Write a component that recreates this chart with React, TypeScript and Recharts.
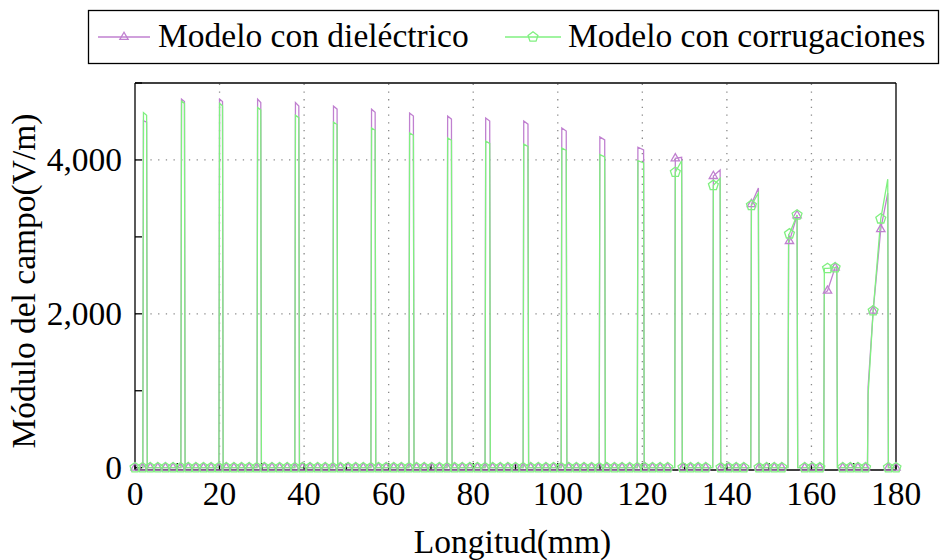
import React from "react";
import { LineChart, Line, XAxis, YAxis, ReferenceLine, Label } from "recharts";

const FONT = "Liberation Serif, DejaVu Serif, Times, serif";
const FS = 33.5;
const PURPLE = "#c080d0";
const GREEN = "#80f080";

// axes
const xTicks = [0, 10, 20, 30, 40, 50, 60, 70, 80, 90, 100, 110, 120, 130, 140, 150, 160, 170, 180];
const xLabels = [0, 20, 40, 60, 80, 100, 120, 140, 160, 180];
const xGrid = [20, 40, 60, 80, 100, 120, 140, 160];
const yTicks = [0, 1000, 2000, 3000, 4000, 5000];
const yLabels = [0, 2000, 4000];
const yGrid = [2000, 4000];

// positions (mm) where the marks are drawn
const markX = [
  0, 1.8, 3.6, 5.4, 7.2, 9, 10.8, 12.6, 14.4, 16.2,
  18, 19.8, 21.6, 23.4, 25.2, 27, 28.8, 30.6, 32.4, 34.2,
  36, 37.8, 39.6, 41.4, 43.2, 45, 46.8, 48.6, 50.4, 52.2,
  54, 55.8, 57.6, 59.4, 61.2, 63, 64.8, 66.6, 68.4, 70.2,
  72, 73.8, 75.6, 77.4, 79.2, 81, 82.8, 84.6, 86.4, 88.2,
  90, 91.8, 93.6, 95.4, 97.2, 99, 100.8, 102.6, 104.4, 106.2,
  108, 109.8, 111.6, 113.4, 115.2, 117, 118.8, 120.6, 122.4, 124.2,
  126, 127.8, 129.6, 131.4, 133.2, 135, 136.8, 138.6, 140.4, 142.2,
  144, 145.8, 147.6, 149.4, 151.2, 153, 154.8, 156.6, 158.4, 160.2,
  162, 163.8, 165.6, 167.4, 169.2, 171, 172.8, 174.6, 176.4, 178.2,
  180,
];
const markDielectric = [
  0, 0, 0, 0, 0, 0, 0, 0, 0, 0,
  0, 0, 0, 0, 0, 0, 0, 0, 0, 0,
  0, 0, 0, 0, 0, 0, 0, 0, 0, 0,
  0, 0, 0, 0, 0, 0, 0, 0, 0, 0,
  0, 0, 0, 0, 0, 0, 0, 0, 0, 0,
  0, 0, 0, 0, 0, 0, 0, 0, 0, 0,
  0, 0, 0, 0, 0, 0, 0, 0, 0, 0,
  0, 4020, 0, 0, 0, 0, 3790, 0, 0, 0,
  0, 3425, 0, 0, 0, 0, 2945, 3280, 0, 0,
  0, 2300, 2600, 0, 0, 0, 0, 2040, 3100, 0,
  0,
];
const markCorrugation = [
  0, 0, 0, 0, 0, 0, 0, 0, 0, 0,
  0, 0, 0, 0, 0, 0, 0, 0, 0, 0,
  0, 0, 0, 0, 0, 0, 0, 0, 0, 0,
  0, 0, 0, 0, 0, 0, 0, 0, 0, 0,
  0, 0, 0, 0, 0, 0, 0, 0, 0, 0,
  0, 0, 0, 0, 0, 0, 0, 0, 0, 0,
  0, 0, 0, 0, 0, 0, 0, 0, 0, 0,
  0, 3840, 0, 0, 0, 0, 3670, 0, 0, 0,
  0, 3410, 0, 0, 0, 0, 3040, 3285, 0, 0,
  0, 2590, 2600, 0, 0, 0, 0, 2040, 3235, 0,
  0,
];

// samples of each field peak (mm), and the field there for both models
const spikeX = [
  [1.85, 2.0, 2.75, 2.9],
  [10.85, 11.0, 11.7, 11.85],
  [19.85, 20.0, 20.7, 20.85],
  [28.85, 29.0, 29.75, 29.9],
  [37.8, 37.95, 38.75, 38.9],
  [46.8, 46.95, 47.8, 47.95],
  [55.8, 55.95, 56.8, 56.95],
  [64.8, 64.95, 65.85, 66.0],
  [73.8, 73.95, 74.85, 75.0],
  [82.8, 82.95, 83.9, 84.05],
  [91.8, 91.95, 92.95, 93.1],
  [100.8, 100.95, 102.0, 102.15],
  [109.8, 109.95, 111.1, 111.25],
  [118.8, 118.95, 120.3, 120.45],
  [127.65, 127.8, 129.3, 129.45],
  [136.65, 136.8, 138.4, 138.55],
  [145.65, 145.8, 147.45, 147.6],
  [154.45, 154.6, 154.8, 156.6, 156.75],
  [162.9, 163.05, 163.8, 165.6, 166.0, 166.15],
  [173.25, 173.4, 174.6, 176.4, 178.05, 178.2],
];
const spikeDielectric = [
  [0, 4510, 4490, 0],
  [0, 4790, 4760, 0],
  [0, 4790, 4760, 0],
  [0, 4790, 4745, 0],
  [0, 4745, 4700, 0],
  [0, 4700, 4660, 0],
  [0, 4660, 4620, 0],
  [0, 4610, 4570, 0],
  [0, 4570, 4530, 0],
  [0, 4545, 4505, 0],
  [0, 4505, 4465, 0],
  [0, 4415, 4375, 0],
  [0, 4300, 4260, 0],
  [0, 4165, 4130, 0],
  [0, 4020, 4035, 0],
  [0, 3790, 3870, 0],
  [0, 3425, 3635, 0],
  [0, 2920, 2945, 3280, 0],
  [0, 2270, 2300, 2600, 2610, 0],
  [0, 1050, 2040, 3100, 3570, 0],
];
const spikeCorrugation = [
  [0, 4615, 4580, 0],
  [0, 4765, 4735, 0],
  [0, 4735, 4705, 0],
  [0, 4680, 4650, 0],
  [0, 4580, 4550, 0],
  [0, 4490, 4460, 0],
  [0, 4415, 4385, 0],
  [0, 4350, 4320, 0],
  [0, 4285, 4255, 0],
  [0, 4245, 4215, 0],
  [0, 4205, 4175, 0],
  [0, 4155, 4125, 0],
  [0, 4070, 4040, 0],
  [0, 3990, 3960, 0],
  [0, 3840, 3990, 0],
  [0, 3670, 3760, 0],
  [0, 3410, 3570, 0],
  [0, 3030, 3040, 3285, 0],
  [0, 2590, 2590, 2600, 2610, 0],
  [0, 950, 2040, 3235, 3750, 0],
];

function lineData(values: number[][]) {
  const pts = [{ x: markX[0], y: 0 }];
  spikeX.forEach((xs, i) => xs.forEach((x, j) => pts.push({ x, y: values[i][j] })));
  pts.push({ x: markX[markX.length - 1], y: 0 });
  return pts;
}

const dielLine = lineData(spikeDielectric);
const corrLine = lineData(spikeCorrugation);
const dielMarks = markX.map((x, i) => ({ x, y: markDielectric[i] }));
const corrMarks = markX.map((x, i) => ({ x, y: markCorrugation[i] }));

function triPoints(cx: number, cy: number, r: number) {
  return [
    [cx, cy - r],
    [cx - 0.866 * r, cy + 0.5 * r],
    [cx + 0.866 * r, cy + 0.5 * r],
  ].map((p) => p.join(",")).join(" ");
}

function pentPoints(cx: number, cy: number, r: number) {
  const out: string[] = [];
  for (let k = 0; k < 5; k++) {
    const a = Math.PI / 2 + (k * 2 * Math.PI) / 5;
    out.push(`${cx + r * Math.cos(a)},${cy - r * Math.sin(a)}`);
  }
  return out.join(" ");
}

const triDot = (p: any) =>
  p.cx == null ? <g key={p.index} /> : (
    <polygon key={p.index} points={triPoints(p.cx, p.cy, 4.8)} fill="none" stroke={PURPLE} strokeWidth={1.3} />
  );

const pentDot = (p: any) =>
  p.cx == null ? <g key={p.index} /> : (
    <polygon key={p.index} points={pentPoints(p.cx, p.cy, 5.2)} fill="none" stroke={GREEN} strokeWidth={1.3} />
  );

const textStyle = { fontFamily: FONT, fontSize: FS };

const XTick = (p: any) => {
  const v = p.payload?.value;
  if (!xLabels.includes(v)) return <g />;
  return (
    <text x={p.x} y={p.y + 35} textAnchor="middle" fontFamily={FONT} style={textStyle} fill="#000">
      {v}
    </text>
  );
};

const YTick = (p: any) => {
  const v = p.payload?.value;
  if (!yLabels.includes(v)) return <g />;
  return (
    <text x={p.x} y={p.y + 11} textAnchor="end" fontFamily={FONT} style={textStyle} fill="#000">
      {v.toLocaleString("en-US")}
    </text>
  );
};

function LegendBox() {
  return (
    <svg width={943} height={70} style={{ position: "absolute", left: 0, top: 0 }}>
      <rect x={88.5} y={10.5} width={850} height={53} fill="#fff" stroke="#000" strokeWidth={1.3} />
      <line x1={98} y1={37} x2={150} y2={37} stroke={PURPLE} strokeWidth={1.3} />
      <polygon points={triPoints(124, 37, 4.8)} fill="none" stroke={PURPLE} strokeWidth={1.3} />
      <text x={158} y={47} fontFamily={FONT} style={textStyle} fill="#000">Modelo con dieléctrico</text>
      <line x1={505} y1={37} x2={561} y2={37} stroke={GREEN} strokeWidth={1.3} />
      <polygon points={pentPoints(533, 37, 5.2)} fill="none" stroke={GREEN} strokeWidth={1.3} />
      <text x={568} y={47} fontFamily={FONT} style={textStyle} fill="#000">Modelo con corrugaciones</text>
    </svg>
  );
}

export default function App() {
  const axisStroke = { stroke: "#000", strokeWidth: 1.3 };
  return (
    <div style={{ position: "absolute", left: 0, top: 0, width: 943, height: 560, background: "#fff", fontFamily: FONT }}>
      <LineChart
        width={943}
        height={560}
        margin={{ top: 82, right: 46, bottom: 10, left: 35 }}
        style={{ fontFamily: FONT }}
      >
        <XAxis
          type="number"
          dataKey="x"
          domain={[0, 180]}
          ticks={xTicks}
          interval={0}
          tickSize={-7}
          tickMargin={7}
          height={80}
          axisLine={axisStroke}
          tickLine={axisStroke}
          tick={XTick}
        >
          <Label
            content={(lp: any) => {
              const vb = lp.viewBox || { x: 135, width: 761 };
              return (
                <text x={vb.x + vb.width / 2 - 3} y={553} textAnchor="middle" fontFamily={FONT} style={textStyle} fill="#000">
                  Longitud(mm)
                </text>
              );
            }}
          />
        </XAxis>
        <XAxis
          xAxisId="top"
          orientation="top"
          type="number"
          dataKey="x"
          domain={[0, 180]}
          allowDataOverflow
          ticks={xTicks}
          interval={0}
          tickSize={-7}
          height={1}
          axisLine={axisStroke}
          tickLine={axisStroke}
          tick={false}
        />
        <YAxis
          type="number"
          domain={[-30, 5000]}
          ticks={yTicks}
          interval={0}
          tickSize={-7}
          tickMargin={20}
          width={100}
          axisLine={axisStroke}
          tickLine={axisStroke}
          tick={YTick}
        >
          <Label
            content={() => (
              <text
                transform="translate(35,281) rotate(-90)"
                textAnchor="middle"
                fontFamily={FONT}
                style={textStyle}
                fill="#000"
              >
                Módulo del campo(V/m)
              </text>
            )}
          />
        </YAxis>
        <YAxis
          yAxisId="right"
          orientation="right"
          type="number"
          domain={[-30, 5000]}
          allowDataOverflow
          ticks={yTicks}
          interval={0}
          tickSize={-7}
          width={1}
          axisLine={axisStroke}
          tickLine={axisStroke}
          tick={false}
        />
        {xGrid.map((v) => (
          <ReferenceLine key={`gx${v}`} x={v} stroke="#8a8a8a" strokeWidth={1.3} strokeDasharray="1.3 6.4" />
        ))}
        {yGrid.map((v) => (
          <ReferenceLine key={`gy${v}`} y={v} stroke="#8a8a8a" strokeWidth={1.3} strokeDasharray="1.3 6.4" />
        ))}
        <Line data={dielLine} dataKey="y" stroke={PURPLE} strokeWidth={1.3} dot={false} activeDot={false} isAnimationActive={false} type="linear" />
        <Line data={dielMarks} dataKey="y" stroke="none" dot={triDot} activeDot={false} isAnimationActive={false} type="linear" />
        <Line data={corrLine} dataKey="y" stroke={GREEN} strokeWidth={1.3} dot={false} activeDot={false} isAnimationActive={false} type="linear" />
        <Line data={corrMarks} dataKey="y" stroke="none" dot={pentDot} activeDot={false} isAnimationActive={false} type="linear" />
      </LineChart>
      <LegendBox />
    </div>
  );
}
